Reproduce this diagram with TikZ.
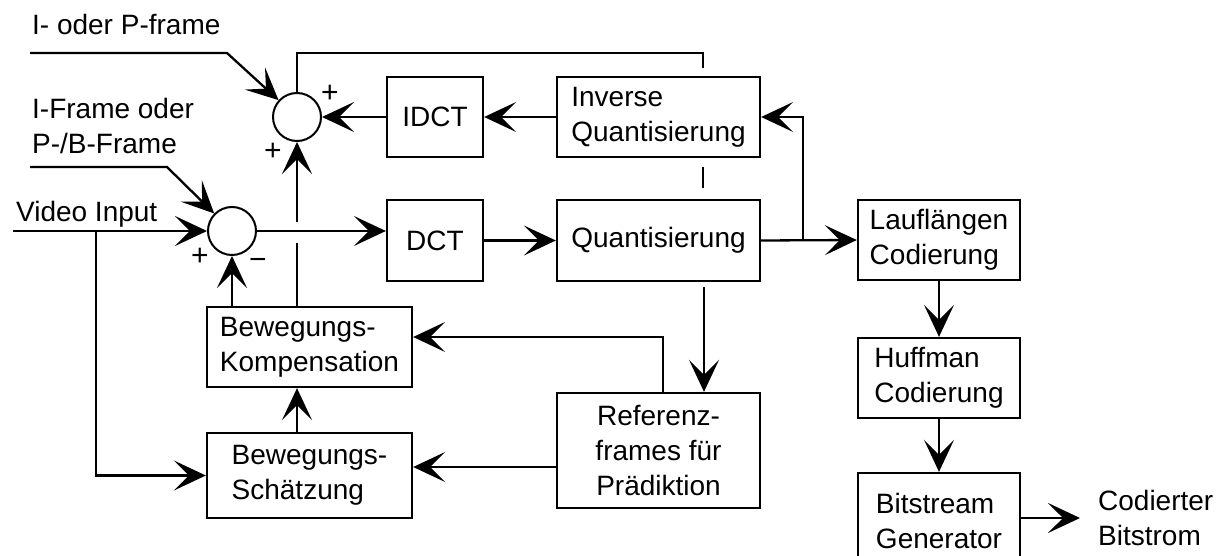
\documentclass[tikz,border=0pt]{standalone}
\usepackage{fontspec}
\setmainfont{Liberation Sans}
\usetikzlibrary{arrows.meta}
\begin{document}
\begin{tikzpicture}[x=1pt,y=-1pt,
  line width=2.3pt,
  font=\fontsize{28}{35}\selectfont,
  >={Stealth[length=32pt,width=30pt,inset=15pt]},
  box/.style={draw, line width=2.3pt, inner sep=0pt, align=left,
    minimum width=#1, minimum height=80pt},
  sum/.style={circle, draw, line width=2pt, minimum size=48pt, inner sep=0pt},
  lbl/.style={inner sep=0pt, align=left},
  sign/.style={inner sep=0pt, font=\fontsize{30}{30}\selectfont},
  lowtext/.style={execute at begin node={\rule{0pt}{29pt}}}]
\useasboundingbox (0,0) rectangle (1221,556);
\clip (0,0) rectangle (1221,556);
\fill[white] (0,0) rectangle (1221,556);

% processing blocks
\node[box=96pt] (idct) at (435,117) {IDCT};
\node[box=203pt, lowtext] (invq) at (658.5,117) {Inverse\\Quantisierung};
\node[box=96pt, minimum height=81pt] (dct) at (435,240.5) {DCT};
\node[box=203pt, minimum height=81pt] (quant) at (658.5,240.5) {Quantisierung};
\node[box=162pt] (lauf) at (939,240) {Lauflängen\\Codierung};
\node[box=162pt, lowtext] (huff) at (939,378) {Huffman\\Codierung};
\node[box=162pt, minimum height=96pt] (bits) at (939,521) {Bitstream\\Generator};
\node[box=205pt] (komp) at (309.5,347) {Bewegungs-\\Kompensation};
\node[box=205pt, minimum height=85pt] (schaetz) at (309.5,475.5) {Bewegungs-\\Schätzung};
\node[box=203pt, minimum height=115pt, align=center] (ref) at (658.5,450.5) {Referenz-\\frames für\\Prädiktion};

% summing points
\node[sum] (sumb) at (232,231) {};
\node[sum] (sumt) at (297,117) {};

% free labels
\node[lbl, anchor=base west] (lipf) at (31,35) {I- oder P-frame};
\node[lbl, anchor=north west] (libf) at (31,97) {I-Frame oder\\P-/B-Frame};
\node[lbl, anchor=base west] (lvid) at (15,222) {Video Input};
\node[lbl, anchor=north west] (lout) at (1097,489) {Codierter\\Bitstrom};

% signs at the summing points
\node[sign] (st1) at (330,94) {+};
\node[sign] (st2) at (273,152) {+};
\node[sign] (sb1) at (200,257) {+};
\node[sign] (sb2) at (258,264) {−};

% helper coordinates
\coordinate (vin) at (13,231);
\coordinate (vsplit) at (96,231);
\coordinate (qsplit) at (803,0);
\coordinate (ftl) at (703,53);
\coordinate (fbtop) at (703,68);
\coordinate (qa) at (703,167);
\coordinate (qb) at (703,188);
\coordinate (qdown) at (704,287);
\coordinate (rk) at (663,337);
\coordinate (rs) at (557,467);
\coordinate (ux) at (297,0);
\coordinate (mx) at (232,0);
\coordinate (gapb) at (297,243);
\coordinate (gapt) at (297,222);
\coordinate (a1) at (30,53);
\coordinate (a2) at (227,53);
\coordinate (b1) at (30,167);
\coordinate (b2) at (167,167);
\coordinate (bo) at (1080,518);

% forward path
\draw[->] (vin) -- (sumb);
\draw[->] (vsplit) |- (schaetz.west);
\draw[->] (sumb) -- (sumb -| dct.west);
\draw[->] (dct.east) -- (quant.west);
\draw[->] (quant.east) -- (lauf.west);
\draw[->] (quant.east -| qsplit) |- (invq.east);
\draw[->] (lauf) -- (huff);
\draw[->] (huff) -- (bits);
\draw[->] (bits.east |- bo) -- (bo);

% reconstruction loop
\draw[->] (invq) -- (idct);
\draw[->] (idct) -- (sumt);
\draw (sumt.north) |- (ftl) -- (fbtop);
\draw (qa) -- (qb);
\draw[->] (qdown) -- (qdown |- ref.north);
\draw[->] (ref.north -| rk) -- (rk) -- (rk -| komp.east);
\draw[->] (rs) -- (rs -| schaetz.east);
\draw[->] (schaetz.north -| ux) -- (komp.south -| ux);
\draw (komp.north -| ux) -- (gapb);
\draw[->] (gapt) -- (sumt);
\draw[->] (komp.north -| mx) -- (sumb);

% frame-type inputs
\draw[->] (a1) -- (a2) -- (sumt);
\draw[->] (b1) -- (b2) -- (sumb);
\end{tikzpicture}
\end{document}
